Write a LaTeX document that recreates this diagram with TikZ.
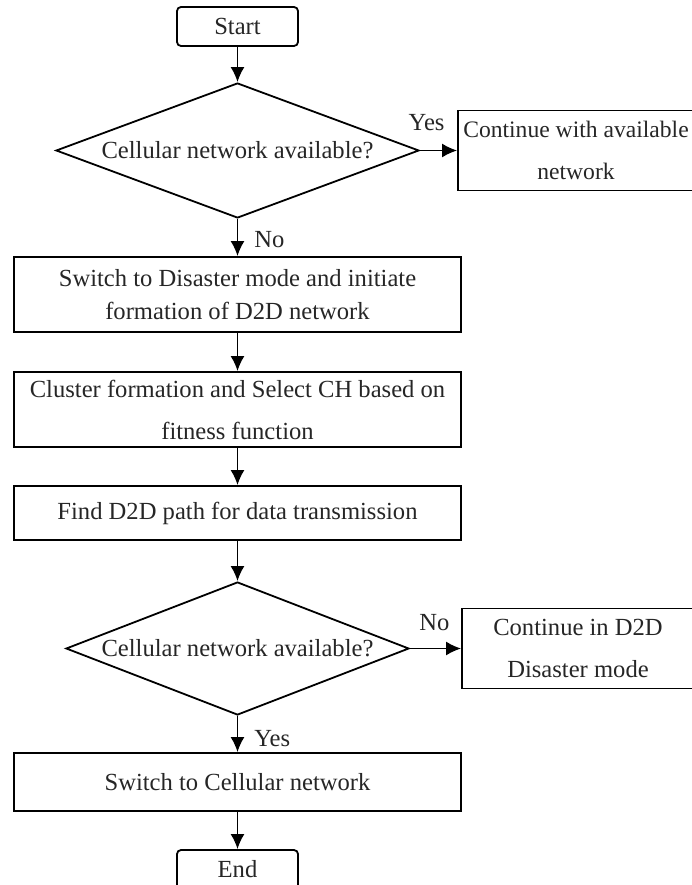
\documentclass[tikz,border=0pt]{standalone}
\usepackage{fontspec}
\setmainfont{Liberation Serif}
\usetikzlibrary{shapes.geometric,arrows.meta}

\begin{document}
\begin{tikzpicture}[x=1pt,y=-1pt,
  every node/.style={font=\fontsize{24.6}{33}\selectfont,text=black!85},
  term/.style={draw,rectangle,rounded corners=4pt,minimum width=121pt,minimum height=39pt,line width=1.8pt},
  proc/.style={draw,rectangle,align=center,inner sep=0pt,line width=1.8pt},
  decision/.style={draw,diamond,aspect=2.6,inner sep=0pt,line width=1.8pt},
  flow/.style={-{Latex[length=15pt,width=14pt]},line width=1.8pt},
  lbl/.style={inner sep=0pt}]
\useasboundingbox (0,0) rectangle (691,885);

% blocs
\node[term] (start) at (237.5,26.5) {Start};
\node[decision,minimum width=363pt,minimum height=135pt] (dec1) at (237.5,150.5) {Cellular network available?};
\node[proc,minimum width=236pt,minimum height=80pt,font=\fontsize{23.6}{33}\selectfont] (avail) at (576,150.5) {Continue with available\\[9pt]network};
\node[proc,minimum width=447pt,minimum height=75pt] (p1) at (237.5,294.5) {Switch to Disaster mode and initiate\\formation of D2D network};
\node[proc,minimum width=447pt,minimum height=75pt] (p2) at (237.5,409.5) {Cluster formation and Select CH based on\\[9pt]fitness function};
\node[proc,minimum width=447pt,minimum height=54pt] (p3) at (237.5,513) {Find D2D path for data transmission};
\node[decision,minimum width=343pt,minimum height=133pt] (dec2) at (237.5,648.5) {Cellular network available?};
\node[proc,minimum width=232pt,minimum height=80pt] (cont) at (578,648.5) {Continue in D2D\\[9pt]Disaster mode};
\node[proc,minimum width=447pt,minimum height=58pt] (p4) at (237.5,782) {Switch to Cellular network};
\node[term] (end) at (237.5,869.5) {End};

% fleches
\draw[flow] (start) -- (dec1);
\draw[flow] (dec1.east) -- node[lbl,pos=0.18,above=19pt] (yes1) {Yes} (avail.west);
\draw[flow] (dec1.south) -- node[lbl,pos=0.55,right=16pt] (no1) {No} (p1.north);
\draw[flow] (p1) -- (p2);
\draw[flow] (p2) -- (p3);
\draw[flow] (p3) -- (dec2.north);
\draw[flow] (dec2.east) -- node[lbl,pos=0.48,above=17pt] (no2) {No} (cont.west);
\draw[flow] (dec2.south) -- node[lbl,pos=0.63,right=16pt] (yes2) {Yes} (p4.north);
\draw[flow] (p4) -- (end);

\end{tikzpicture}
\end{document}
